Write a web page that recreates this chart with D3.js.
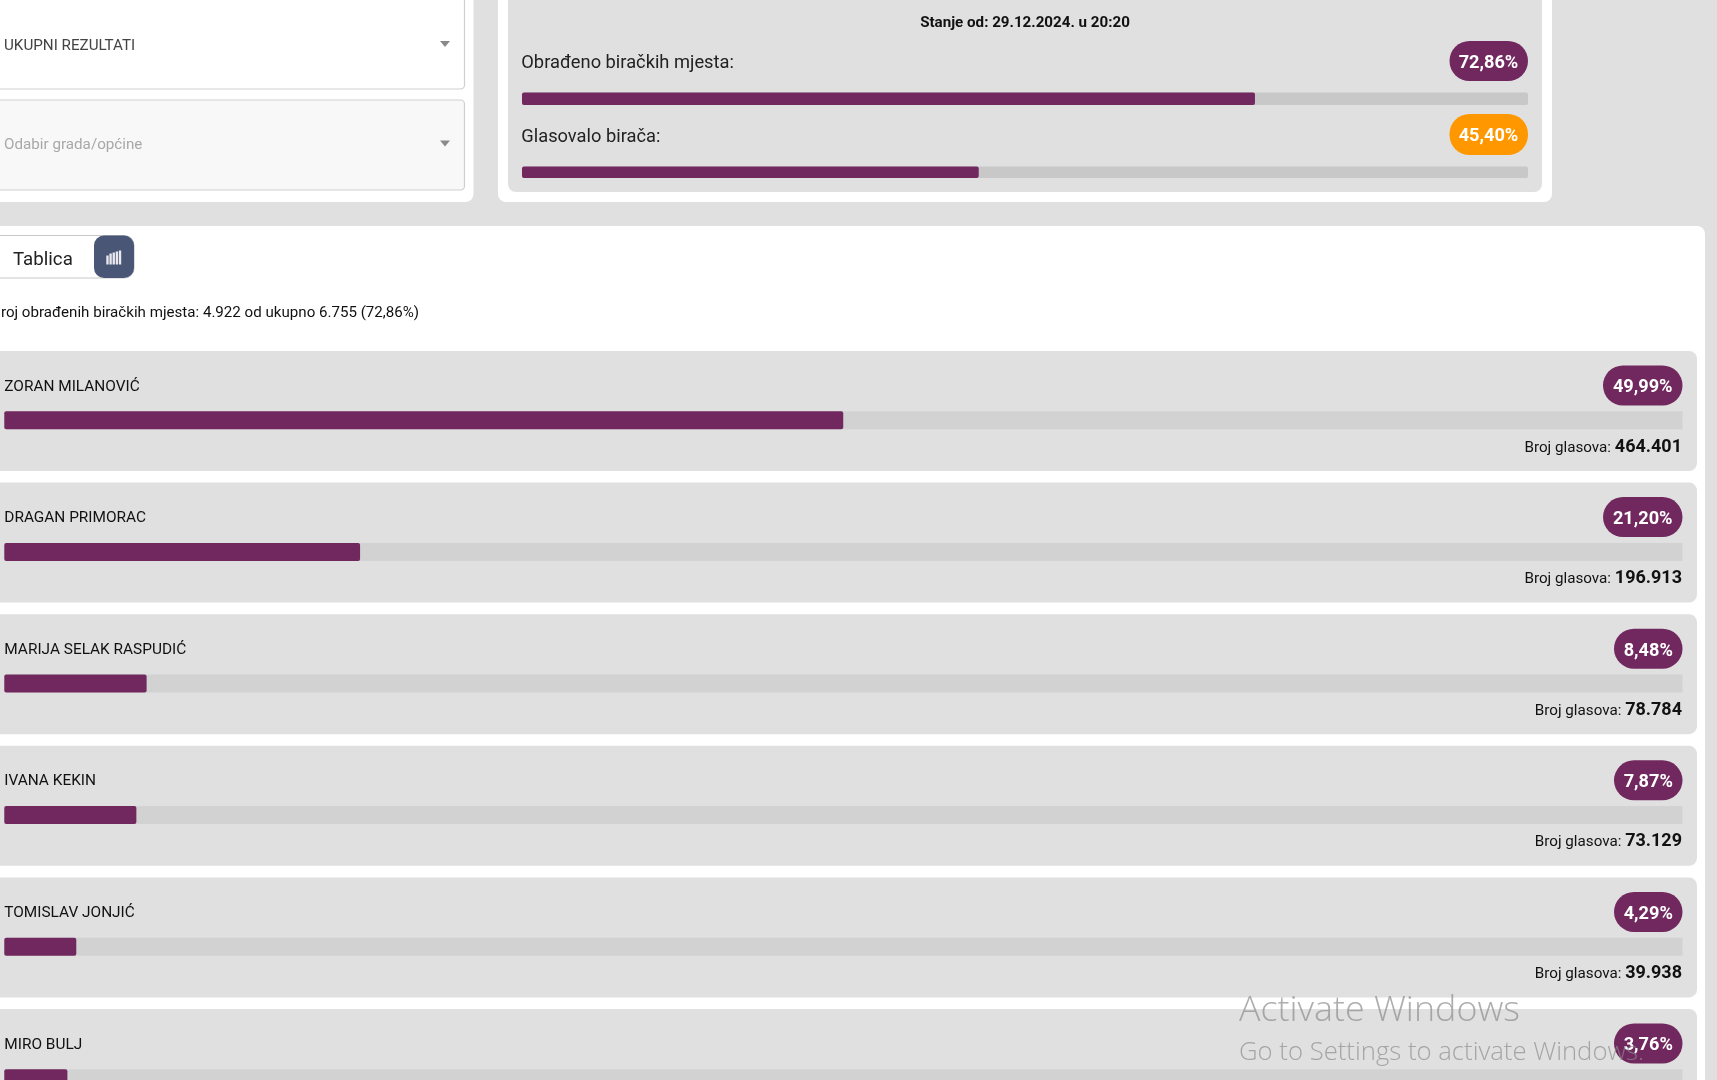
<!DOCTYPE html>
<html><head><meta charset="utf-8">
<script src="https://cdn.jsdelivr.net/npm/d3@7"></script>
<style>
html,body{margin:0;padding:0;background:#e0e0e0;overflow:hidden}
svg{display:block;filter:blur(0.35px)}
text{font-family:Roboto,sans-serif}
</style></head><body><div id="c"></div>
<script>
const candidates=["ZORAN MILANOVIĆ","DRAGAN PRIMORAC","MARIJA SELAK RASPUDIĆ","IVANA KEKIN","TOMISLAV JONJIĆ","MIRO BULJ"];
const percents=[49.99,21.20,8.48,7.87,4.29,3.76];
const votes=["464.401","196.913","78.784","73.129","39.938",""];
const summaryLabels=["Obrađeno biračkih mjesta:","Glasovalo birača:"];
const summaryValues=[72.86,45.40];
const statusText="Stanje od: 29.12.2024. u 20:20";
const processedText="Broj obrađenih biračkih mjesta: 4.922 od ukupno 6.755 (72,86%)";
const selectLabels=["UKUPNI REZULTATI","Odabir grada/općine"];
const iconBars=[9,11,12,13,14];

const PURPLE="#70285f",ORANGE="#ff9800",PANEL="#e0e0e0";
const fmt=v=>v.toFixed(2).replace(".",",")+"%";
const svg=d3.select("#c").append("svg").attr("width",1717).attr("height",1080);
const rect=(g,x,y,w,h,r,fill,stroke)=>g.append("rect").attr("x",x).attr("y",y).attr("width",w).attr("height",h).attr("rx",r||0).attr("fill",fill).attr("stroke",stroke||"none");
const text=(g,x,y,s,size,fill,weight,anchor)=>g.append("text").attr("x",x).attr("y",y).attr("dy","0.35em").attr("font-size",size).attr("fill",fill).attr("font-weight",weight||400).attr("text-anchor",anchor||"start").text(s);

// top-left card with selects
const tl=svg.append("g");
rect(tl,-20,-20,493.5,222,8,"#fff");
[[-20,109,"#fff","#444"],[100,90,"#f8f8f8","#a8a8a8"]].forEach((d,i)=>{
  rect(tl,-20,d[0],484.5,d[1],4,d[2],"#cfcfcf").attr("stroke-width",1.2);
  text(tl,4,i?144:44.5,selectLabels[i],15.2,d[3]);
  const cx=445,cy=i?143.5:44;
  tl.append("path").attr("d",d3.line()([[cx-5,cy-3],[cx+5,cy-3],[cx,cy+3]])+"Z").attr("fill","#8a8a8a");
});

// top-right summary card
const tr=svg.append("g");
rect(tr,498,-20,1054,222,8,"#fff");
rect(tr,508,-20,1034,212,8,PANEL);
text(tr,1025,21.5,statusText,15.15,"#111",700,"middle");
const sx=d3.scaleLinear().domain([0,100]).range([522,1528]);
[{ty:62,by:92.5,bh:12.5,b0:41,b1:81,c:PURPLE},{ty:136,by:166.5,bh:11.5,b0:114,b1:155,c:ORANGE}].forEach((d,i)=>{
  text(tr,521.3,d.ty,summaryLabels[i],18.3,"#222");
  rect(tr,sx(0),d.by,sx(100)-sx(0),d.bh,2,"#c8c8c8");
  rect(tr,sx(0),d.by,sx(summaryValues[i])-sx(0),d.bh,2,PURPLE);
  rect(tr,1449.5,d.b0,78.5,d.b1-d.b0,20,d.c);
  text(tr,1488.5,(d.b0+d.b1)/2+0.3,fmt(summaryValues[i]),18.2,"#fff",700,"middle");
});

// main card
const mc=svg.append("g");
rect(mc,-20,226,1725,900,8,"#fff");
rect(mc,-20,235.5,154,42.5,10,"#fff","#c8c8c8").attr("stroke-width",1.2);
rect(mc,94,235.5,40,42.5,10,"#4a5675");
text(mc,13,258.5,"Tablica",18.7,"#222");
const iconX=d3.scaleBand().domain(iconBars.map((_,i)=>i)).range([105.5,122]).padding(0.25);
mc.selectAll(".ib").data(iconBars).join("rect").attr("x",(d,i)=>iconX(i)).attr("width",iconX.bandwidth()).attr("y",d=>264.5-d).attr("height",d=>d).attr("fill","#e8e8ee");
text(mc,-8.5,311.5,processedText,15.12,"#111");

// candidate rows
const rowTop=d3.scaleLinear().domain([0,5]).range([351,1009]);
const x=d3.scaleLinear().domain([0,100]).range([4.3,1682.5]);
const rows=mc.selectAll(".row").data(candidates.map((name,i)=>({name,p:percents[i],v:votes[i]}))).join("g").attr("class","row").attr("transform",(d,i)=>`translate(0,${rowTop(i)})`);
rows.append("rect").attr("x",-20).attr("y",0).attr("width",1717).attr("height",120).attr("rx",8).attr("fill",PANEL);
rows.append("text").attr("x",4.3).attr("y",34.3).attr("dy","0.35em").attr("font-size",15.4).attr("fill","#111").text(d=>d.name);
rows.append("rect").attr("x",x(0)).attr("y",60.3).attr("width",x(100)-x(0)).attr("height",18).attr("fill","#d2d2d2");
rows.append("rect").attr("x",x(0)).attr("y",60.3).attr("width",d=>x(d.p)-x(0)).attr("height",18).attr("rx",2).attr("fill",PURPLE);
const pw=d=>d.p>=10?79.5:68.5;
rows.append("rect").attr("x",d=>x(100)-pw(d)).attr("y",14.5).attr("width",pw).attr("height",40).attr("rx",20).attr("fill",PURPLE);
rows.append("text").attr("x",d=>x(100)-pw(d)/2).attr("y",35).attr("dy","0.35em").attr("text-anchor","middle").attr("font-size",18.2).attr("font-weight",700).attr("fill","#fff").text(d=>fmt(d.p));
const vt=rows.filter(d=>d.v).append("text").attr("x",1682).attr("y",95).attr("dy","0.35em").attr("text-anchor","end").attr("fill","#111");
vt.append("tspan").attr("font-size",15.2).text("Broj glasova: ");
vt.append("tspan").attr("font-size",18).attr("font-weight",700).text(d=>d.v);

// watermark
const wm=svg.append("g").attr("fill","#8c8c8c").attr("fill-opacity",0.7);
wm.append("text").attr("x",1239).attr("y",1021).attr("font-size",35.8).attr("font-weight",300).style("font-family","'Open Sans',sans-serif").text("Activate Windows");
wm.append("text").attr("x",1239).attr("y",1060).attr("font-size",25.7).attr("font-weight",300).style("font-family","'Open Sans',sans-serif").text("Go to Settings to activate Windows.");
</script></body></html>
